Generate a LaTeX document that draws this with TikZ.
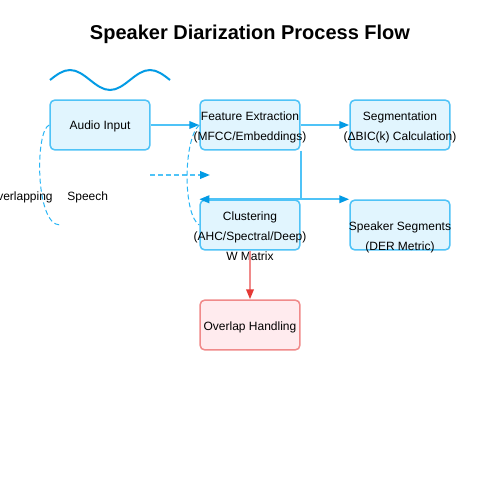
\documentclass[tikz,border=0pt]{standalone}
\usepackage{fontspec}
\setmainfont{Liberation Sans}
\usetikzlibrary{arrows.meta}
\definecolor{boxfill}{HTML}{E1F5FE}
\definecolor{boxline}{HTML}{4FC3F7}
\definecolor{lineblue}{HTML}{4FC3F7}
\definecolor{headblue}{HTML}{039BE5}
\definecolor{dashblue}{HTML}{29B6F6}
\definecolor{redfill}{HTML}{FFEBEE}
\definecolor{redline}{HTML}{F08A8A}
\definecolor{redhead}{HTML}{E53935}

\begin{document}
\begin{tikzpicture}[x=0.02cm,y=-0.02cm,
  box/.style={rectangle,rounded corners=0.1cm,minimum width=2cm,minimum height=1cm,inner sep=0,line width=0.03cm,draw=boxline,fill=boxfill},
  redbox/.style={box,draw=redline,fill=redfill},
  txt/.style={font=\fontsize{6.83}{8}\selectfont,inner sep=0,anchor=base},
  flow/.style={line width=0.04cm,draw=lineblue,-{Triangle[length=0.2cm,width=0.15cm,color=headblue]}},
  redflow/.style={line width=0.04cm,draw=redline,-{Triangle[length=0.2cm,width=0.15cm,color=redhead]}},
  loop/.style={line width=0.02cm,draw=dashblue,dash pattern=on 0.1cm off 0.06cm}]
\useasboundingbox (0,0) rectangle (500,500);
\clip (0,0) rectangle (500,500);
\fill[white] (0,0) rectangle (500,500);

\node[font=\fontsize{11.38}{14}\selectfont\bfseries,inner sep=0,anchor=base] (title) at (250,40) {Speaker Diarization Process Flow};
\draw[headblue,line width=0.04cm] (50,80) sin (70,70) cos (90,80) sin (110,90) cos (130,80) sin (150,70) cos (170,80);

\node[box] (audio) at (100,125) {};
\node[box] (feat) at (250,125) {};
\node[box] (seg) at (400,125) {};
\node[box] (clu) at (250,225) {};
\node[box] (spk) at (400,225) {};
\node[redbox] (ovl) at (250,325) {};

\node[txt] (audiolbl) at (100,130) {Audio Input};
\node[txt] (featlbl) at (250,120) {Feature Extraction};
\node[txt] (featsub) at (250,140) {(MFCC/Embeddings)};
\node[txt] (seglbl) at (400,120) {Segmentation};
\node[txt] (segsub) at (400,140) {(ΔBIC(k) Calculation)};
\node[txt] (clulbl) at (250,220) {Clustering};
\node[txt] (clusub) at (250,240) {(AHC/Spectral/Deep)};
\node[txt] (clumat) at (250,260) {W Matrix};
\node[txt] (spklbl) at (400,230) {Speaker Segments};
\node[txt] (spksub) at (400,250) {(DER Metric)};
\node[txt] (ovllbl) at (250,330) {Overlap Handling};
\node[txt,anchor=base east] (ovsp1) at (53,200) {Overlapping};
\node[txt,anchor=base west] (ovsp2) at (67,200) {Speech};

\draw[flow] (audio.east) -- (feat.west);
\draw[flow] (feat.east) -- (seg.west);
\coordinate (split) at (feat.south east |- clu.north);
\draw[line width=0.04cm,lineblue] (feat.south east) -- (split);
\draw[flow] (split) -- (clu.north west);
\draw[flow] (split) -- (spk.north west);
\draw[redflow] (clu.south) -- (ovl.north);

\coordinate (dashfrom) at (150,175);
\coordinate (dashto) at (210,175);
\draw[flow,dash pattern=on 0.1cm off 0.06cm] (dashfrom) -- (dashto);
\coordinate (loopend) at (60,225);
\draw[loop] (audio.west) .. controls (35,130) and (35,225) .. (loopend);
\draw[loop] (feat.west) .. controls (183,140) and (183,215) .. (clu.west);
\end{tikzpicture}
\end{document}
